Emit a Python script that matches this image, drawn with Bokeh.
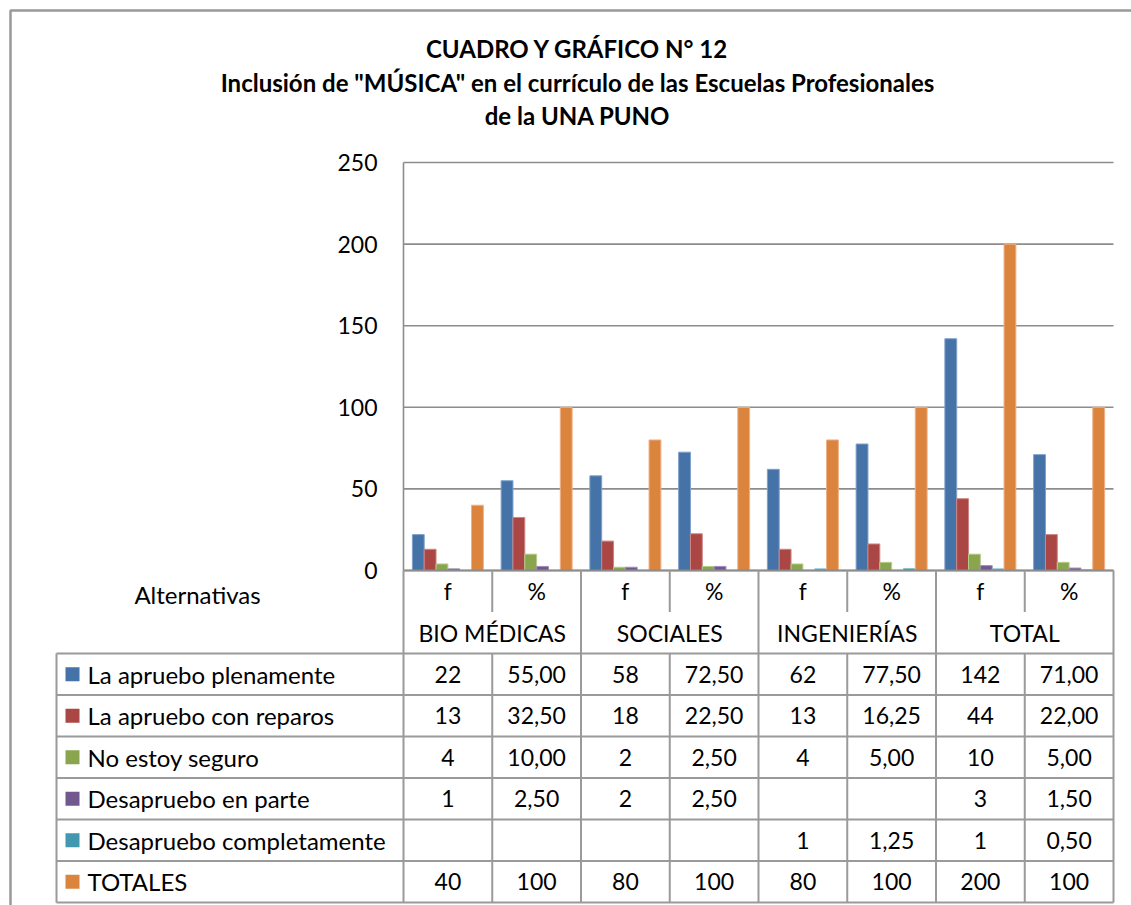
import math
from bokeh.plotting import figure
from bokeh.models import Range1d, ColumnDataSource
from bokeh.core.properties import value
from bokeh.transform import dodge
from bokeh.embed import file_html
from bokeh.resources import INLINE

# ---------------- data ----------------
title_lines = ["CUADRO Y GRÁFICO N° 12",
               "Inclusión de \"MÚSICA\" en el currículo de las Escuelas Profesionales",
               "de la UNA PUNO"]
groups = ["BIO MÉDICAS", "SOCIALES", "INGENIERÍAS", "TOTAL"]
subcats = ["f", "%"]
series_names = ["La apruebo plenamente", "La apruebo con reparos", "No estoy seguro",
                "Desapruebo en parte", "Desapruebo completamente", "TOTALES"]
aprueba_plenamente = [22, 55.00, 58, 72.50, 62, 77.50, 142, 71.00]
aprueba_reparos = [13, 32.50, 18, 22.50, 13, 16.25, 44, 22.00]
no_seguro = [4, 10.00, 2, 2.50, 4, 5.00, 10, 5.00]
desaprueba_parte = [1, 2.50, 2, 2.50, None, None, 3, 1.50]
desaprueba_completo = [None, None, None, None, 1, 1.25, 1, 0.50]
totales = [40, 100, 80, 100, 80, 100, 200, 100]
series_values = [aprueba_plenamente, aprueba_reparos, no_seguro,
                 desaprueba_parte, desaprueba_completo, totales]
colors = ["#4572A7", "#AA4643", "#89A54E", "#71588F", "#4198AF", "#DB843D"]
edge_colors = ["#7EA0CC", "#CC8583", "#B5CC8A", "#A08DBB", "#86C3D3", "#F0B088"]
y_ticks = [0, 50, 100, 150, 200, 250]
y_label_text = "Alternativas"

# ---------------- layout (pixels on the canvas) ----------------
W, H = 1131, 905
AXIS_X = 403          # canvas x of value axis
SLOT = 88.75          # px per category slot
ZERO_Y = 570          # canvas y of value 0
PPU = 408 / 250       # px per value unit
TBL_BOTTOM = 902      # canvas y of table bottom
N_ROWS = 8            # 2 header rows + 6 series rows
ROW = (TBL_BOTTOM - ZERO_Y) / N_ROWS
TBL_LEFT_PX = 56
SQUARE_PX = 72
LABEL_PX = 87
BORDER_PX = 10
TITLE_X_PX = 577
TITLE_Y_PX = [48, 82, 115]
ALT_X_PX, ALT_Y_PX = 197, 594

n = len(aprueba_plenamente)
ux = lambda px: (px - AXIS_X) / SLOT
vy = lambda py: (ZERO_Y - py) / PPU

p = figure(width=W, height=H, output_backend="svg", toolbar_location=None,
           x_range=Range1d(ux(0), ux(W)), y_range=Range1d(vy(H), vy(0)),
           x_axis_type=None, y_axis_type=None, min_border=0,
           background_fill_color="white", border_fill_color="white")
p.outline_line_color = None
p.grid.visible = False
p.extra_y_ranges = {"tbl": Range1d(-(H - TBL_BOTTOM) / ROW, TBL_BOTTOM / ROW)}

FONT = value("Lato")
GRID = "#8C8C8C"
TBL = "#9A9A9A"

# outer frame (top and left edges)
p.line(x=[ux(BORDER_PX), ux(BORDER_PX), ux(W)], y=[vy(H), vy(BORDER_PX), vy(BORDER_PX)],
       line_color="#999999", line_width=2.5)

# title
p.text(x=[ux(TITLE_X_PX)] * 3, y=[vy(t) for t in TITLE_Y_PX], text=title_lines,
       text_font=FONT, text_font_style="bold", text_font_size="24px",
       text_align="center", text_baseline="middle", text_color="black")

# gridlines
p.segment(x0=[0] * len(y_ticks), x1=[n] * len(y_ticks), y0=y_ticks, y1=y_ticks,
          line_color=GRID, line_width=1.6)
# value axis line
p.segment(x0=[0], x1=[0], y0=[0], y1=[max(y_ticks)], line_color=GRID, line_width=1.6)
# y tick labels
p.text(x=[0] * len(y_ticks), y=y_ticks, text=[str(t) for t in y_ticks],
       x_offset=-26, text_font=FONT, text_font_size="23px",
       text_align="right", text_baseline="middle", text_color="black")

# bars
bw = 0.8 / len(series_values)
for j, (vals, c, ec) in enumerate(zip(series_values, colors, edge_colors)):
    src = ColumnDataSource(dict(x=[i + 0.5 for i in range(n)],
                                top=[float("nan") if v is None else v for v in vals]))
    off = -0.4 + (j + 0.5) * bw
    p.vbar(x=dodge("x", off, range=p.x_range), top="top", bottom=0, width=bw,
           source=src, fill_color=c, line_color=ec, line_width=1)

# ---------------- data table ----------------
body = len(series_values)
tl = ux(TBL_LEFT_PX)
# horizontal lines of body
p.segment(x0=[tl] * (body + 1), x1=[n] * (body + 1), y0=list(range(body + 1)),
          y1=list(range(body + 1)), line_color=TBL, line_width=2, y_range_name="tbl")
# x axis line
p.segment(x0=[0], x1=[n], y0=[N_ROWS], y1=[N_ROWS], line_color=GRID, line_width=2,
          y_range_name="tbl")
# vertical lines
xs0, ys0, ys1 = [], [], []
for k in range(n + 1):
    if k % 2 == 0:
        xs0.append(k); ys0.append(0); ys1.append(N_ROWS)
    else:
        xs0 += [k, k]; ys0 += [0, N_ROWS - 1]; ys1 += [body, N_ROWS]
xs0.append(tl); ys0.append(0); ys1.append(body)
p.segment(x0=xs0, x1=xs0, y0=ys0, y1=ys1, line_color=TBL, line_width=2, y_range_name="tbl")

# header labels
p.text(x=[i + 0.5 for i in range(n)], y=[N_ROWS - 0.5] * n,
       text=[subcats[i % 2] for i in range(n)], text_font=FONT, text_font_size="23px",
       text_align="center", text_baseline="middle", text_color="black", y_range_name="tbl")
p.text(x=[2 * g + 1 for g in range(len(groups))], y=[N_ROWS - 1.5] * len(groups),
       text=groups, text_font=FONT, text_font_size="23px",
       text_align="center", text_baseline="middle", text_color="black", y_range_name="tbl")
p.text(x=[ux(ALT_X_PX)], y=[(TBL_BOTTOM - ALT_Y_PX) / ROW], text=[y_label_text],
       text_font=FONT, text_font_size="24px",
       text_align="center", text_baseline="middle", text_color="black", y_range_name="tbl")

# legend keys + series names
rows_y = [body - 0.5 - j for j in range(body)]
p.scatter(x=[ux(SQUARE_PX)] * body, y=rows_y, marker="square", size=14,
          fill_color=colors, line_color=None, y_range_name="tbl")
p.text(x=[ux(LABEL_PX)] * body, y=rows_y, text=series_names, text_font=FONT,
       text_font_size="24px", text_align="left", text_baseline="middle",
       text_color="black", y_range_name="tbl")

# cell values
def fmt(v, col, is_total):
    if v is None:
        return ""
    if col % 2 == 0 or is_total:
        return str(int(round(v)))
    return f"{v:.2f}".replace(".", ",")

cx, cy, ct = [], [], []
for j, vals in enumerate(series_values):
    for i, v in enumerate(vals):
        cx.append(i + 0.5); cy.append(rows_y[j])
        ct.append(fmt(v, i, j == body - 1))
p.text(x=cx, y=cy, text=ct, text_font=FONT, text_font_size="23px",
       text_align="center", text_baseline="middle", text_color="black", y_range_name="tbl")

open("out.html", "w").write(file_html(p, INLINE))
